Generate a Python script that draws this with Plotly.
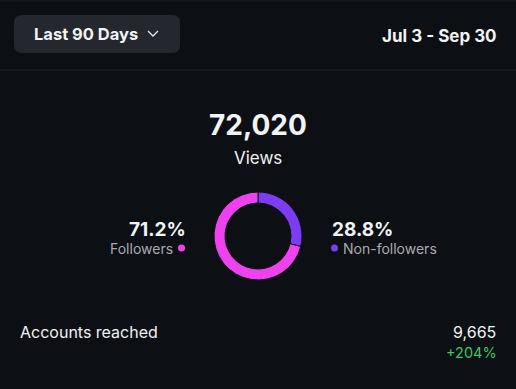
import plotly.graph_objects as go

W, H = 516, 389
segments = ["Non-followers", "Followers"]
shares = [28.8, 71.2]
seg_colors = ["#7b3cf4", "#ef42ef"]
total_views = "72,020"
period_label = "Last 90 Days"
date_range = "Jul 3 - Sep 30"
reach_label = "Accounts reached"
reach_value = "9,665"
reach_change = "+204%"

BG = "#0c0f14"
FONT = "Inter, Roboto, sans-serif"

def px(x):
    return x / W

def py(y):
    return 1 - y / H

cx, cy, r = 258, 236, 44

fig = go.Figure(go.Pie(
    labels=segments, values=shares, sort=False, direction="clockwise", rotation=0,
    hole=0.75, marker=dict(colors=seg_colors, line=dict(color=BG, width=1)),
    textinfo="none", hoverinfo="label+percent", showlegend=False,
    domain=dict(x=[px(cx - r), px(cx + r)], y=[py(cy + r), py(cy - r)]),
))

shapes = [
    dict(type="line", xref="paper", yref="paper", x0=0, x1=1, y0=py(1), y1=py(1),
         line=dict(color="#1e2127", width=1)),
    dict(type="line", xref="paper", yref="paper", x0=0, x1=1, y0=py(70), y1=py(70),
         line=dict(color="#1e2127", width=1)),
    dict(type="path", xref="paper", yref="paper",
         path=(f"M {px(22)},{py(15)} L {px(172)},{py(15)} Q {px(180)},{py(15)} {px(180)},{py(23)} "
               f"L {px(180)},{py(45)} Q {px(180)},{py(53)} {px(172)},{py(53)} "
               f"L {px(22)},{py(53)} Q {px(14)},{py(53)} {px(14)},{py(45)} "
               f"L {px(14)},{py(23)} Q {px(14)},{py(15)} {px(22)},{py(15)} Z"),
         fillcolor="#24272d", line=dict(width=0)),
    dict(type="circle", xref="paper", yref="paper",
         x0=px(178), x1=px(185), y0=py(251.5), y1=py(244.5),
         fillcolor=seg_colors[1], line=dict(width=0)),
    dict(type="circle", xref="paper", yref="paper",
         x0=px(331), x1=px(338), y0=py(251.5), y1=py(244.5),
         fillcolor=seg_colors[0], line=dict(width=0)),
    dict(type="path", xref="paper", yref="paper",
         path=f"M {px(148)},{py(31)} L {px(153)},{py(36)} L {px(158)},{py(31)}",
         line=dict(color="#e8e9ec", width=1.3)),
]

def ann(text, x, y, size, color="#f2f3f5", anchor="center", bold=False):
    return dict(text=f"<b>{text}</b>" if bold else text, x=px(x), y=py(y),
                xref="paper", yref="paper", showarrow=False,
                xanchor=anchor, yanchor="middle",
                font=dict(family=FONT, size=size, color=color))

annotations = [
    ann(period_label, 32, 34, 16.5, anchor="left", bold=True),
    ann(date_range, 499, 36, 17, anchor="right", bold=True),
    ann(total_views, 258, 125, 28, bold=True),
    ann("Views", 258, 158, 17),
    ann(f"{shares[1]}%", 188, 229, 19, anchor="right", bold=True),
    ann(segments[1], 175, 248, 14, color="#a7aab1", anchor="right"),
    ann(f"{shares[0]}%", 330, 229, 19, anchor="left", bold=True),
    ann(segments[0], 341, 248, 14, color="#a7aab1", anchor="left"),
    ann(reach_label, 18, 332, 16, anchor="left"),
    ann(reach_value, 498, 332, 16, anchor="right"),
    ann(reach_change, 498.5, 352, 14.5, color="#2fcc5c", anchor="right"),
]

fig.update_layout(
    width=W, height=H, margin=dict(l=0, r=0, t=0, b=0),
    paper_bgcolor=BG, plot_bgcolor=BG,
    shapes=shapes, annotations=annotations,
)
fig.write_html("out.html", config={"displayModeBar": False},
               post_script="document.body.style.margin='0';document.body.style.background='#0c0f14';")
